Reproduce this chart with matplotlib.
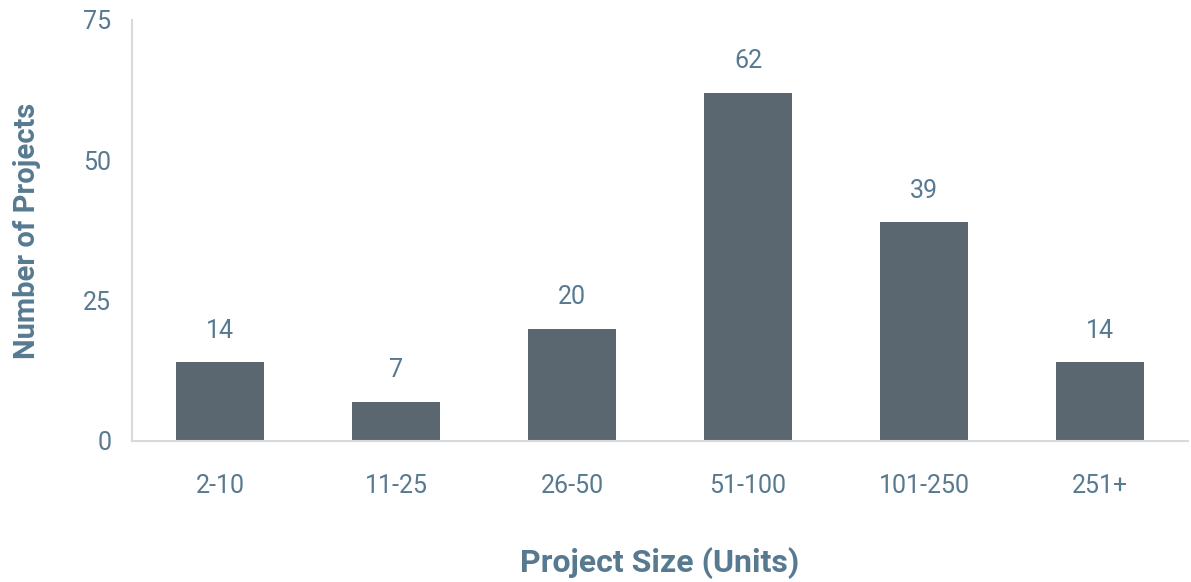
import matplotlib.pyplot as plt

# data
sizes = ['2-10', '11-25', '26-50', '51-100', '101-250', '251+']
projects = [14, 7, 20, 62, 39, 14]
yticks = [0, 25, 50, 75]

barColor = '#5b6770'
textColor = '#587a91'
spineColor = '#d9d9d9'

plt.rcParams['font.family'] = ['Roboto', 'DejaVu Sans']

fig = plt.figure(figsize=(11.91, 5.82), dpi=100)
ax = fig.add_axes([0.1108, 0.2423, 0.8867, 0.7234])

xs = list(range(len(sizes)))
bars = ax.bar(xs, projects, width=0.5, color=barColor)

# value labels above each bar
for x, v in zip(xs, projects):
    ax.annotate(str(v), (x, v), xytext=(0, 14), textcoords='offset points',
                ha='center', va='bottom', fontsize=18, color=textColor)

ax.set_xlim(-0.5, 5.5)
ax.set_ylim(0, 75)
ax.set_xticks(xs)
ax.set_xticklabels(sizes)
ax.set_yticks(yticks)
ax.tick_params(axis='both', length=0, labelsize=18, labelcolor=textColor)
ax.tick_params(axis='x', pad=24)
ax.tick_params(axis='y', pad=15)

for side in ['top', 'right']:
    ax.spines[side].set_visible(False)
ax.spines['left'].set_color(spineColor)
ax.spines['bottom'].set_color(spineColor)
ax.spines['left'].set_linewidth(1.5)
ax.spines['bottom'].set_linewidth(1.5)

ax.set_ylabel('Number of Projects', fontsize=21, fontweight='bold', color=textColor, labelpad=30)
ax.set_xlabel('Project Size (Units)', fontsize=23, fontweight='bold', color=textColor, labelpad=35)

fig.savefig('out.png', dpi=100)
